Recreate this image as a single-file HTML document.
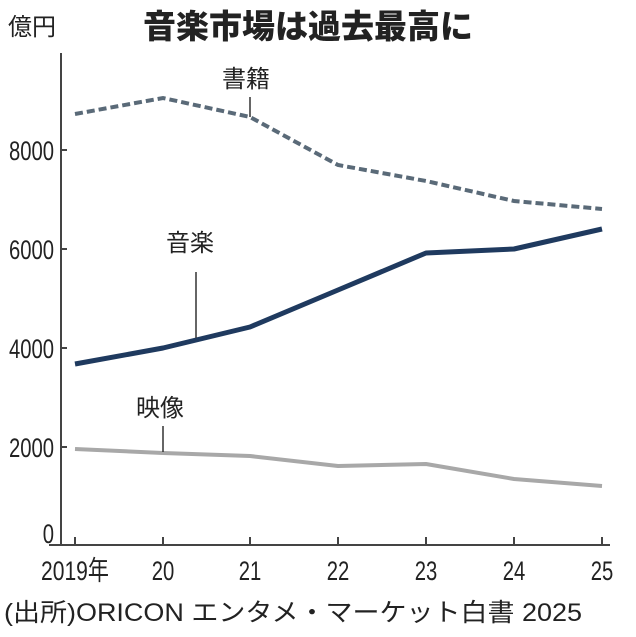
<!DOCTYPE html>
<html><head><meta charset="utf-8"><style>
html,body{margin:0;padding:0;background:#fff;}
svg{display:block;}
text{font-family:"Liberation Sans","Noto Sans CJK JP",sans-serif;fill:#222;}
</style></head><body>
<svg width="636" height="637" viewBox="0 0 636 637" xmlns="http://www.w3.org/2000/svg">
<text x="8" y="35" font-size="24">億円</text>
<text x="143" y="38" font-size="33" font-family="Noto Sans CJK JP, sans-serif" style="font-weight:900">音楽市場は過去最高に</text>
<g stroke="#444" stroke-width="2" fill="none">
<line x1="61" y1="53" x2="61" y2="546"/>
<line x1="49" y1="545" x2="610" y2="545"/>
<line x1="61" y1="150" x2="67" y2="150"/>
<line x1="61" y1="249" x2="67" y2="249"/>
<line x1="61" y1="348" x2="67" y2="348"/>
<line x1="61" y1="447" x2="67" y2="447"/>
<line x1="75" y1="537" x2="75" y2="545"/>
<line x1="163" y1="537" x2="163" y2="545"/>
<line x1="250" y1="537" x2="250" y2="545"/>
<line x1="338" y1="537" x2="338" y2="545"/>
<line x1="426" y1="537" x2="426" y2="545"/>
<line x1="514" y1="537" x2="514" y2="545"/>
<line x1="602" y1="537" x2="602" y2="545"/>
</g>
<g font-size="27" text-anchor="end">
<text x="54" y="160" transform="translate(54 0) scale(0.75 1) translate(-54 0)">8000</text>
<text x="54" y="259" transform="translate(54 0) scale(0.75 1) translate(-54 0)">6000</text>
<text x="54" y="358" transform="translate(54 0) scale(0.75 1) translate(-54 0)">4000</text>
<text x="54" y="457" transform="translate(54 0) scale(0.75 1) translate(-54 0)">2000</text>
<text x="54" y="543" transform="translate(54 0) scale(0.75 1) translate(-54 0)">0</text>
</g>
<g font-size="27" text-anchor="middle">
<text x="75" y="580" transform="translate(75 0) scale(0.78 1) translate(-75 0)">2019年</text>
<text x="163" y="580" transform="translate(163 0) scale(0.75 1) translate(-163 0)">20</text>
<text x="250" y="580" transform="translate(250 0) scale(0.75 1) translate(-250 0)">21</text>
<text x="338" y="580" transform="translate(338 0) scale(0.75 1) translate(-338 0)">22</text>
<text x="426" y="580" transform="translate(426 0) scale(0.75 1) translate(-426 0)">23</text>
<text x="514" y="580" transform="translate(514 0) scale(0.75 1) translate(-514 0)">24</text>
<text x="602" y="580" transform="translate(602 0) scale(0.75 1) translate(-602 0)">25</text>
</g>
<text x="4" y="621" font-size="25" textLength="578" lengthAdjust="spacingAndGlyphs">(出所)ORICON エンタメ・マーケット白書 2025</text>
<!-- 映像 -->
<polyline points="75,449 163,453 250,456 338,466 426,464 514,479 602,486" fill="none" stroke="#a8a8a8" stroke-width="4" stroke-linejoin="round"/>
<line x1="163" y1="426" x2="163" y2="452" stroke="#333" stroke-width="1.5"/>
<text x="136" y="416" font-size="24">映像</text>
<!-- 音楽 -->
<polyline points="75,364 163,348 250,327 338,290 426,253 514,249 602,229" fill="none" stroke="#1f3a5f" stroke-width="5" stroke-linejoin="round"/>
<line x1="196" y1="272" x2="196" y2="338" stroke="#333" stroke-width="1.5"/>
<text x="166" y="251" font-size="24">音楽</text>
<!-- 書籍 -->
<polyline points="75,114 163,98 250,117 338,165 426,181 514,201 602,209" fill="none" stroke="#5a6a78" stroke-width="4" stroke-dasharray="8,4"/>
<line x1="250" y1="97" x2="250" y2="117" stroke="#333" stroke-width="1.5"/>
<text x="222" y="87" font-size="24">書籍</text>
</svg>
</body></html>
